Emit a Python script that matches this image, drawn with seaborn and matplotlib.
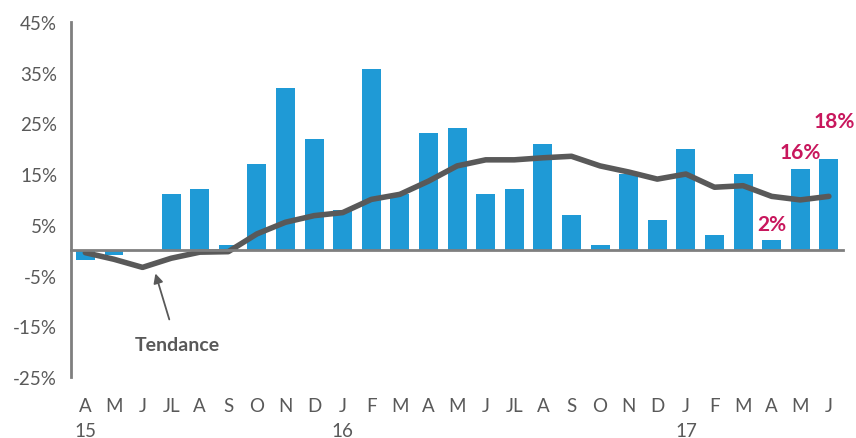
import matplotlib
matplotlib.use("Agg")
import matplotlib.pyplot as plt
import matplotlib.transforms as mtransforms
import numpy as np
import seaborn as sns

# %% Data
months = ["A", "M", "J", "JL", "A", "S", "O", "N", "D", "J", "F", "M", "A", "M",
          "J", "JL", "A", "S", "O", "N", "D", "J", "F", "M", "A", "M", "J"]
years = {0: "15", 9: "16", 21: "17"}
monthly = [-2, -1, 0, 11, 12, 1, 17, 32, 22, 8, 35.8, 11, 23, 24,
           11, 12, 21, 7, 1, 15, 6, 20, 3, 15, 2, 16, 18]
trend = [-0.5, -1.8, -3.4, -1.6, -0.4, -0.3, 3.2, 5.5, 6.8, 7.4, 10.0, 11.0, 13.6, 16.6,
         17.8, 17.8, 18.2, 18.5, 16.6, 15.4, 14.0, 15.0, 12.4, 12.7, 10.6, 9.9, 10.6]
highlight = [24, 25, 26]
y_ticks = [-25, -15, -5, 5, 15, 25, 35, 45]

BAR_COLOR = "#1f9ad6"
LINE_COLOR = "#595959"
AXIS_COLOR = "#7f7f7f"
TEXT_COLOR = "#595959"
LABEL_COLOR = "#c8175d"

sns.set_style("white")
plt.rcParams["font.family"] = ["Lato", "DejaVu Sans"]

fig = plt.figure(figsize=(8.56, 4.39), dpi=100)
ax = fig.add_axes([0.083, 0.139, 0.902, 0.809])

idx = np.arange(len(months))
sns.barplot(x=idx, y=monthly, color=BAR_COLOR, width=0.66, linewidth=0,
            saturation=1, ax=ax)
sns.lineplot(x=idx, y=trend, color=LINE_COLOR, linewidth=4, ax=ax,
             solid_capstyle="round")

ax.set_xlim(-0.5, len(months) - 0.5)
ax.set_ylim(-25, 45)
ax.set_yticks(y_ticks)
ax.set_yticklabels([f"{v}%" for v in y_ticks], fontsize=13.5, color=TEXT_COLOR)
ax.tick_params(axis="y", direction="out", length=6, width=2, color=AXIS_COLOR, pad=4)

for side in ["top", "right"]:
    ax.spines[side].set_visible(False)
ax.spines["left"].set_color(AXIS_COLOR)
ax.spines["left"].set_linewidth(2)
ax.spines["bottom"].set_position(("data", 0))
ax.spines["bottom"].set_color(AXIS_COLOR)
ax.spines["bottom"].set_linewidth(2)

ax.set_xticks(np.arange(len(months) + 1) - 0.5)
ax.set_xticklabels([])
ax.tick_params(axis="x", direction="out", length=6, width=2, color=AXIS_COLOR)

# month and year labels at the bottom of the plot area
trans = mtransforms.blended_transform_factory(ax.transData, ax.transAxes)
for i, m in enumerate(months):
    ax.text(i, -0.079, m, transform=trans, ha="center", va="center",
            fontsize=13.5, color=TEXT_COLOR)
for i, y in years.items():
    ax.text(i, -0.152, y, transform=trans, ha="center", va="center",
            fontsize=13.5, color=TEXT_COLOR)

# highlighted values
offsets = {24: (0, 4), 25: (0, 5), 26: (4, 20)}
for i in highlight:
    dx, dy = offsets[i]
    ax.annotate(f"{monthly[i]}%", xy=(i, monthly[i]), xytext=(dx, dy),
                textcoords="offset points", ha="center", va="bottom",
                fontsize=15, fontweight="bold", color=LABEL_COLOR)

# trend annotation
ax.annotate("Tendance", xy=(2.45, -4.6), xytext=(3.2, -18.6),
            ha="center", va="center", fontsize=14, fontweight="bold",
            color=TEXT_COLOR,
            arrowprops=dict(arrowstyle="-|>", color=TEXT_COLOR, lw=1.3,
                            shrinkA=10, shrinkB=0, mutation_scale=14))

ax.set_xlabel("")
ax.set_ylabel("")
fig.savefig("out.png", dpi=100)
